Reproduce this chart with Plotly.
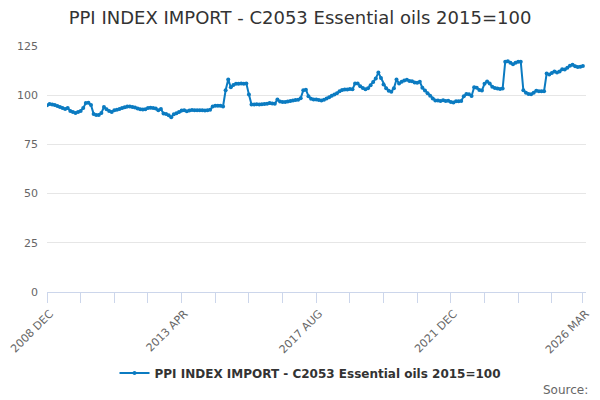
import plotly.graph_objects as go

# Monthly index values, 2008 DEC .. 2026 MAR (2015=100)
months = ["JAN", "FEB", "MAR", "APR", "MAY", "JUN",
          "JUL", "AUG", "SEP", "OCT", "NOV", "DEC"]
periods = ["2008 DEC"] + [f"{y} {m}" for y in range(2009, 2026) for m in months] \
    + ["2026 JAN", "2026 FEB", "2026 MAR"]

index_values = [
    94.9, 95.5, 95.3, 95.0, 94.5, 94.0, 93.5, 93.0, 93.5, 92.0,
    91.5, 91.0, 91.5, 92.0, 93.5, 96.0, 96.2, 95.0, 90.5, 90.0,
    90.0, 91.0, 94.0, 92.8, 92.0, 91.5, 92.3, 92.6, 93.0, 93.5,
    93.9, 94.3, 94.3, 94.0, 93.8, 93.2, 92.8, 92.7, 92.8, 93.5,
    93.6, 93.5, 93.2, 92.3, 93.0, 90.7, 90.5, 89.8, 88.8, 90.3,
    90.8, 91.5, 92.2, 92.3, 91.8, 92.2, 92.5, 92.4, 92.4, 92.3,
    92.3, 92.2, 92.3, 92.6, 94.3, 94.7, 94.7, 94.6, 94.3, 102.5,
    108.0, 104.0, 105.2, 105.8, 105.8, 106.0, 105.8, 106.0, 100.3, 95.3,
    95.3, 95.4, 95.3, 95.4, 95.5, 95.7, 96.0, 95.8, 95.6, 97.8,
    96.8, 96.5, 96.6, 96.8, 97.0, 97.3, 97.5, 97.7, 98.5, 102.5,
    102.8, 99.5, 98.2, 97.8, 97.8, 97.5, 97.3, 97.7, 98.3, 99.0,
    99.7, 100.3, 101.0, 102.0, 102.6, 102.9, 102.9, 103.2, 103.0, 106.0,
    106.0, 104.5, 103.6, 103.0, 103.5, 105.0, 106.7, 108.5, 111.5, 108.8,
    105.4, 103.5, 102.3, 101.8, 103.5, 108.0, 106.0, 106.8, 107.5, 107.8,
    107.2, 107.1, 106.5, 106.3, 106.8, 103.8, 102.4, 101.0, 99.7, 98.3,
    97.3, 97.3, 97.0, 97.4, 97.1, 97.2, 96.5, 96.3, 96.9, 96.9,
    97.1, 99.5, 100.6, 100.5, 99.6, 104.0, 103.8, 102.6, 102.4, 105.8,
    107.0, 106.0, 104.3, 103.6, 103.4, 103.2, 103.4, 117.0, 117.3, 116.5,
    115.7, 116.5, 117.0, 117.0, 102.5, 101.3, 100.6, 100.5, 101.3, 102.3,
    102.0, 102.0, 102.0, 111.0, 110.5, 111.3, 112.0, 111.5, 112.0, 113.2,
    113.1, 114.0, 115.0, 115.5, 114.7, 114.3, 114.5, 114.8,
]

series_name = "PPI INDEX IMPORT - C2053 Essential oils 2015=100"
y_ticks = [0, 25, 50, 75, 100, 125]

# tick marks every 13 months, labels every 52, plus the last month
tick_pos = list(range(0, len(periods), 13)) + [len(periods) - 1]
tick_vals = [periods[i] for i in tick_pos]
tick_text = [periods[i] if i % 52 == 0 or i == len(periods) - 1 else "" for i in tick_pos]

FONT = "DejaVu Sans"
LINE_COLOR = "#0b7bc1"

# the page body adds an 8px offset, so the figure is 8px smaller each way
W, H = 592, 392
ML, MR, MT, MB = 39, 14, 38, 108
PW, PH = W - ML - MR, H - MT - MB

fig = go.Figure()
fig.add_trace(go.Scatter(
    x=periods, y=index_values, name=series_name,
    mode="lines+markers",
    line=dict(color=LINE_COLOR, width=2),
    marker=dict(color=LINE_COLOR, size=4),
))

fig.update_layout(
    width=W, height=H,
    margin=dict(l=ML, r=MR, t=MT, b=MB, autoexpand=False),
    paper_bgcolor="white", plot_bgcolor="white",
    font=dict(family=FONT, color="#333333"),
    title=dict(text=series_name, x=292 / W, xanchor="center",
               y=1 - 10 / H, yanchor="middle",
               font=dict(size=18, color="#333333")),
    showlegend=True,
    legend=dict(orientation="h", x=(310.5 - 47) / PW, xanchor="center",
                y=-81 / PH, yanchor="middle",
                font=dict(size=12, color="#333333", weight="bold")),
    xaxis=dict(
        type="category", range=[0, 208.2], automargin=False,
        tickmode="array", tickvals=tick_vals, ticktext=tick_text,
        tickangle=-45, tickfont=dict(size=11, color="#666666"),
        ticklabelshift=3,
        ticks="outside", ticklen=10, tickcolor="#ccd6eb",
        showline=True, linecolor="#ccd6eb", linewidth=1,
        showgrid=False, zeroline=False,
    ),
    yaxis=dict(
        range=[0, 125], tickvals=y_ticks, automargin=False,
        tickfont=dict(size=11, color="#666666"),
        gridcolor="#e6e6e6", gridwidth=1,
        zeroline=False, showline=False, ticklabelstandoff=8,
    ),
)

fig.add_annotation(text="Source:", xref="paper", yref="paper",
                   x=(590 - 47) / PW, xanchor="right", y=-98 / PH, yanchor="middle",
                   showarrow=False, font=dict(size=12, color="#666666"))

fig.write_html("out.html")
